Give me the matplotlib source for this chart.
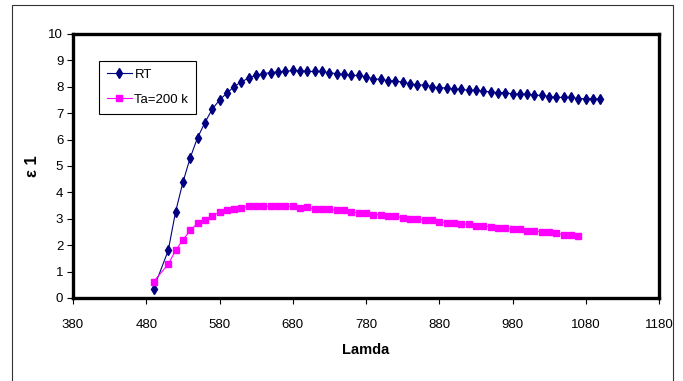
import matplotlib
matplotlib.use('Agg')
import matplotlib.pyplot as plt
from matplotlib.patches import Rectangle

plt.rcParams['font.family'] = ['Liberation Sans', 'DejaVu Sans']

# wavelengths (nm) and eps1 values
rt_lamda = [490] + list(range(510, 1101, 10))
rt_eps = [0.35, 1.80, 3.26, 4.38, 5.31, 6.07, 6.64, 7.15, 7.50, 7.76,
          8.01, 8.19, 8.33, 8.44, 8.50, 8.54, 8.57, 8.58, 8.62,
          8.61, 8.58, 8.58, 8.58, 8.53, 8.50, 8.47, 8.43, 8.43, 8.38,
          8.30, 8.28, 8.23, 8.23, 8.17, 8.12, 8.07, 8.07, 8.01, 7.96,
          7.96, 7.91, 7.91, 7.86, 7.86, 7.83, 7.81, 7.78, 7.78, 7.73,
          7.73, 7.71, 7.68, 7.68, 7.63, 7.60, 7.60, 7.60, 7.55, 7.55,
          7.55, 7.53]

ta_lamda = [490] + list(range(510, 1071, 10))
ta_eps = [0.62, 1.28, 1.80, 2.20, 2.56, 2.83, 2.97, 3.12, 3.24, 3.32,
          3.38, 3.42, 3.47, 3.47, 3.47, 3.47, 3.47, 3.47, 3.47,
          3.41, 3.43, 3.37, 3.37, 3.37, 3.32, 3.32, 3.26, 3.22, 3.22,
          3.16, 3.16, 3.09, 3.09, 3.04, 3.00, 3.00, 2.95, 2.95, 2.89,
          2.85, 2.85, 2.80, 2.80, 2.74, 2.74, 2.69, 2.65, 2.65, 2.60,
          2.60, 2.55, 2.55, 2.50, 2.50, 2.45, 2.40, 2.40, 2.34]

x_ticks = list(range(380, 1181, 100))
y_ticks = list(range(0, 11))

fig = plt.figure(figsize=(6.83, 3.81), dpi=100)
ax = fig.add_axes([73 / 683, 1 - 298 / 381, 586 / 683, 264 / 381])

ax.plot(rt_lamda, rt_eps, color='#000080', marker='d', markersize=5.2,
        linewidth=0.8, label='RT')
ax.plot(ta_lamda, ta_eps, color='#FF00FF', marker='s', markersize=4.6,
        linewidth=0.8, label='Ta=200 k')

ax.set_xlim(380, 1180)
ax.set_ylim(0, 10)
ax.set_xticks(x_ticks)
ax.set_yticks(y_ticks)
ax.tick_params(direction='out', length=4, width=0.8, labelsize=9.5, pad=3)
ax.tick_params(axis='x', pad=11)
for s in ax.spines.values():
    s.set_linewidth(2.4)

ax.set_xlabel('Lamda', fontsize=10.5, fontweight='bold', labelpad=9)
ax.set_ylabel('ε 1', fontsize=12, fontweight='bold', labelpad=6)

leg = ax.legend(loc='upper left', bbox_to_anchor=(0.044, 0.898), borderaxespad=0,
                fancybox=False, edgecolor='black', framealpha=1, fontsize=9.5,
                handlelength=1.9, handletextpad=0.2, borderpad=0.6,
                labelspacing=0.95)
leg.get_frame().set_linewidth(0.8)

# thin outer frame of the chart area
fig.patches.append(Rectangle((12 / 683, -0.05), 661 / 683, 1.05 - 5 / 381,
                             transform=fig.transFigure, fill=False,
                             edgecolor='#333333', linewidth=0.8))

fig.savefig('out.png', dpi=100)
